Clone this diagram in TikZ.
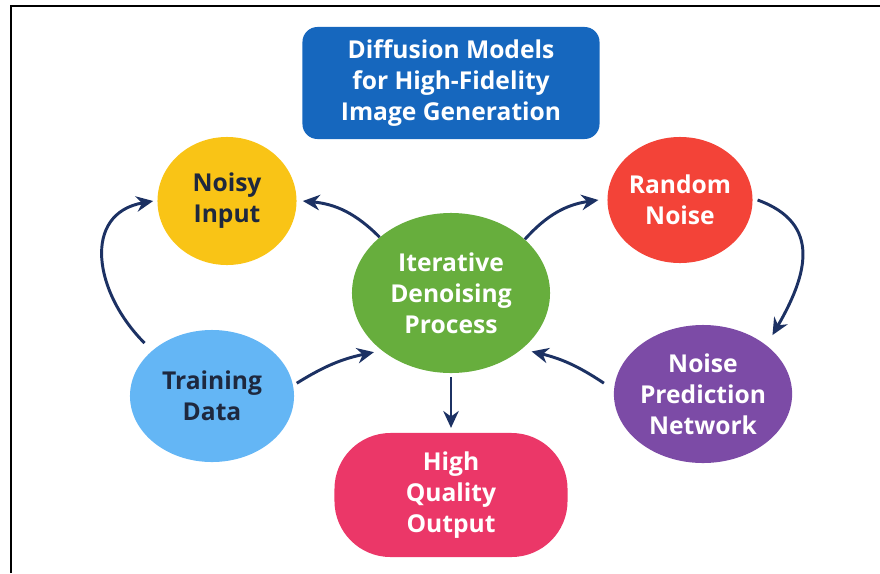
\documentclass[tikz,border=0pt]{standalone}
\usepackage{fontspec}
\setmainfont{Open Sans}
\usetikzlibrary{shapes.geometric,arrows.meta}

\definecolor{titleblue}{RGB}{22,103,190}
\definecolor{noisyyellow}{RGB}{249,196,22}
\definecolor{noisered}{RGB}{243,67,56}
\definecolor{processgreen}{RGB}{103,174,61}
\definecolor{trainblue}{RGB}{100,182,245}
\definecolor{netpurple}{RGB}{124,75,166}
\definecolor{outputpink}{RGB}{235,55,104}
\definecolor{arrownavy}{RGB}{28,49,99}
\definecolor{darktext}{RGB}{30,40,62}

\begin{document}
\begin{tikzpicture}[x=0.025cm, y=-0.025cm,
        label font/.style={font=\bfseries\fontsize{17.5}{22}\selectfont},
        blob/.style={ellipse, inner sep=0pt, align=center, text=white, label font},
        flow/.style={-{Stealth[length=12pt,width=11pt]}, line width=2.1pt, draw=arrownavy}]
        \useasboundingbox (0,0) rectangle (880,573);

        % Draw the frame
        \draw[line width=1.4pt] (11,573) -- (11,6) -- (880,6);

        % Draw the title box
        \node[rounded corners=0.375cm, fill=titleblue, text=white, align=center, label font,
              minimum width=7.425cm, minimum height=2.8cm] (title) at (451,83)
              {Diffusion Models\\for High-Fidelity\\Image Generation};

        % Draw the stages
        \node[blob, fill=processgreen, minimum width=4.95cm, minimum height=4cm] (idp) at (451,293)
              {Iterative\\Denoising\\Process};
        \node[blob, fill=noisyyellow, text=darktext, minimum width=3.475cm, minimum height=3.2cm] (noisy) at (227,201)
              {Noisy\\Input};
        \node[blob, fill=noisered, minimum width=3.625cm, minimum height=3.15cm] (rnoise) at (680,200)
              {Random\\Noise};
        \node[blob, fill=trainblue, text=darktext, minimum width=4.1cm, minimum height=3.3cm] (tdata) at (212,396)
              {Training\\Data};
        \node[blob, fill=netpurple, minimum width=4.15cm, minimum height=3.45cm] (npn) at (703,394)
              {Noise\\Prediction\\Network};
        \node[rounded corners=1.4cm, fill=outputpink, text=white, align=center, label font,
              minimum width=5.825cm, minimum height=3.1cm] (hqout) at (451,495)
              {High\\Quality\\Output};

        % Add the arrows out of the process
        \draw[flow] (idp.142) to[bend right=20] ([xshift=0.15cm]noisy.east);
        \draw[flow] (idp.36) to[bend left=20] ([xshift=-0.22cm]rnoise.west);
        \draw[flow] ([yshift=-0.1cm]idp.south) -- ([yshift=0.12cm]hqout.north);

        % Add the arrows round the sides
        \draw[flow] ([xshift=0.12cm]rnoise.east) to[out=-20, in=60, looseness=1.3]
              ([shift={(0.22cm,0.2cm)}]npn.40);
        \draw[flow] ([xshift=-0.27cm]npn.173) to[bend right=10] ([shift={(0.17cm,-0.12cm)}]idp.-36);
        \draw[flow] ([xshift=0.1cm]tdata.9) to[bend left=10] ([shift={(-0.11cm,-0.11cm)}]idp.217);
        \draw[flow] ([shift={(-0.21cm,0.17cm)}]tdata.142) to[out=135, in=190, looseness=1.3]
              ([xshift=-0.1cm]noisy.west);
\end{tikzpicture}
\end{document}
